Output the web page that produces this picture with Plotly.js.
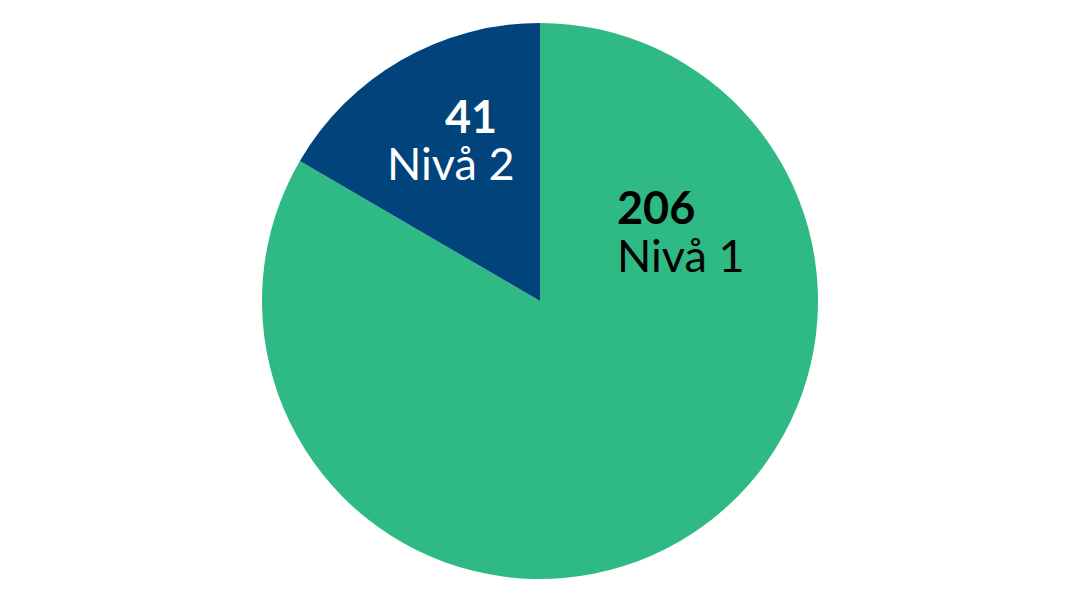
<!DOCTYPE html>
<html>
<head>
<meta charset="utf-8">
<script src="https://cdn.plot.ly/plotly-3.0.1.min.js"></script>
<style>html,body{margin:0;padding:0;background:#fff;}#chart{width:1080px;height:603px;}</style>
</head>
<body>
<div id="chart"></div>
<script>
const categories = ["Nivå 1", "Nivå 2"];
const values = [206, 41];
const colors = ["#2fb984", "#00447b"];
const textColors = ["#000000", "#ffffff"];

// label placement (paper pixels) per slice: [number line, name line]
const labelPos = [
  {num: {x: 616, y: 200, anchor: "left"}, name: {x: 616, y: 252, anchor: "left"}},
  {num: {x: 471, y: 101, anchor: "center"}, name: {x: 451, y: 152, anchor: "center"}}
];

const W = 1080, H = 603;
const annotations = [];
categories.forEach((c, i) => {
  const p = labelPos[i];
  annotations.push({
    text: "<b>" + values[i] + "</b>", xref: "paper", yref: "paper",
    x: p.num.x / W, y: 1 - p.num.y / H, xanchor: p.num.anchor, yanchor: "middle",
    borderpad: 0, height: 46, valign: "middle",
    showarrow: false, font: {family: "Lato, sans-serif", size: 45, color: textColors[i]}
  });
  annotations.push({
    text: c, xref: "paper", yref: "paper",
    x: p.name.x / W, y: 1 - p.name.y / H, xanchor: p.name.anchor, yanchor: "middle",
    borderpad: 0, height: 46, valign: "middle",
    showarrow: false, font: {family: "Lato, sans-serif", size: 45, color: textColors[i]}
  });
});

Plotly.newPlot("chart", [{
  type: "pie",
  labels: categories,
  values: values,
  sort: false,
  direction: "clockwise",
  rotation: 0,
  marker: {colors: colors, line: {width: 0}},
  textinfo: "none",
  hoverinfo: "skip",
  showlegend: false
}], {
  width: W, height: H,
  margin: {l: 0, r: 0, t: 23, b: 24},
  paper_bgcolor: "#ffffff",
  showlegend: false,
  annotations: annotations
}, {staticPlot: true, displayModeBar: false});
</script>
</body>
</html>
